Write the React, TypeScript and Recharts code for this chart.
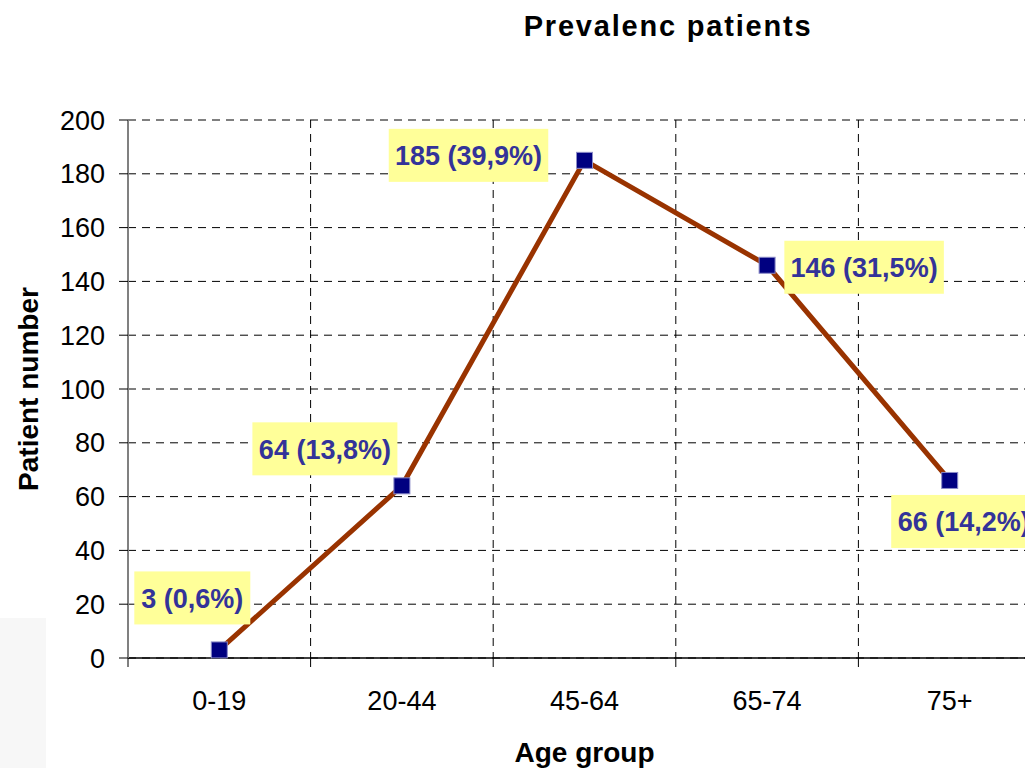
import { LineChart, Line, XAxis, YAxis, CartesianGrid, LabelList, Label } from 'recharts';

// 年齡組別與病人數
const ageGroups = ['0-19', '20-44', '45-64', '65-74', '75+'];
const patients = [3, 64, 185, 146, 66];
const percents = [0.6, 13.8, 39.9, 31.5, 14.2];
const yTicks = [0, 20, 40, 60, 80, 100, 120, 140, 160, 180, 200];

// 標籤框相對於資料點的位移 (dx, dy)
const LABEL_OFFSETS: [number, number][] = [
  [-27, -52],
  [-77, -37],
  [-116, -5],
  [97, 2],
  [14, 41],
];

const FONT = 'Arial, "Liberation Sans", sans-serif';
const TICK_GAP = 33;

const chartData = ageGroups.map((g, i) => ({
  group: g,
  patients: patients[i],
  label: `${patients[i]} (${percents[i].toFixed(1).replace('.', ',')}%)`,
}));

function SquareDot(props: any) {
  const { cx, cy, index } = props;
  if (cx == null || cy == null) return null;
  return (
    <rect
      key={`dot-${index}`}
      x={cx - 8}
      y={cy - 8}
      width={16}
      height={16}
      fill="#000080"
      stroke="#8c8cc8"
      strokeWidth={1}
    />
  );
}

// 類別刻度：文字置中，刻度線畫在類別邊界
function CategoryTick(props: any) {
  const { x, y, width, payload, index } = props;
  const band = width / ageGroups.length;
  const axisY = y - TICK_GAP;
  const left = x - band / 2;
  return (
    <g>
      <line x1={left} x2={left} y1={axisY} y2={axisY + 9} stroke="#000" />
      {index === ageGroups.length - 1 && (
        <line x1={x + band / 2} x2={x + band / 2} y1={axisY} y2={axisY + 9} stroke="#000" />
      )}
      <text x={x} y={y + 19} textAnchor="middle" fontSize={27} fontFamily={FONT} fill="#000">
        {payload.value}
      </text>
    </g>
  );
}

function BoxLabel(props: any) {
  const { x, y, index, value } = props;
  if (x == null || y == null) return null;
  const text = String(value);
  const [dx, dy] = LABEL_OFFSETS[index] ?? [0, -40];
  const w = text.length * 14.5;
  const h = 53;
  const cx = x + dx;
  const cy = y + dy;
  return (
    <g>
      <rect x={cx - w / 2} y={cy - h / 2} width={w} height={h} fill="#FFFF99" />
      <text
        x={cx}
        y={cy + 10}
        textAnchor="middle"
        fontFamily={FONT}
        fontSize={27}
        fontWeight="bold"
        fill="#333399"
      >
        {text}
      </text>
    </g>
  );
}

export default function App() {
  return (
    <div
      style={{
        position: 'absolute',
        left: 0,
        top: 0,
        width: 1025,
        height: 768,
        overflow: 'hidden',
        background: '#fff',
        fontFamily: FONT,
      }}
    >
      <div style={{ position: 'absolute', left: 0, top: 618, width: 46, height: 150, background: '#f7f7f7' }} />
      <div
        style={{
          position: 'absolute',
          left: 668,
          top: 12,
          transform: 'translateX(-50%)',
          fontSize: 29,
          lineHeight: 1,
          fontWeight: 'bold',
          letterSpacing: 1.8,
          whiteSpace: 'nowrap',
          color: '#000',
        }}
      >
        Prevalenc patients
      </div>
      <div style={{ position: 'absolute', left: 0, top: 0 }}>
        <LineChart
          width={1060}
          height={768}
          data={chartData}
          margin={{ top: 120, right: 19, bottom: 0, left: 0 }}
        >
          <CartesianGrid
            stroke="#000"
            strokeDasharray="8 6"
            verticalCoordinatesGenerator={({ offset }: any) =>
              ageGroups.slice(1).map((_, i) => offset.left + (offset.width * (i + 1)) / ageGroups.length)
            }
          />
          <XAxis
            dataKey="group"
            type="category"
            scale="band"
            height={110}
            axisLine={{ stroke: '#000', strokeWidth: 1.5 }}
            tickLine={false}
            tickSize={0}
            tickMargin={TICK_GAP}
            tick={<CategoryTick />}
          >
            <Label
              value="Age group"
              position="insideBottom"
              offset={6}
              style={{ fontSize: 28, fontWeight: 'bold', fill: '#000', fontFamily: FONT }}
            />
          </XAxis>
          <YAxis
            width={128}
            domain={[0, 200]}
            ticks={yTicks}
            interval={0}
            axisLine={{ stroke: '#808080', strokeWidth: 2 }}
            tickLine={{ stroke: '#000' }}
            tickSize={9}
            tickMargin={14}
            tick={{ fontSize: 27, fill: '#000', fontFamily: FONT }}
          >
            <Label
              value="Patient number"
              position="insideLeft"
              angle={-90}
              offset={28}
              style={{ fontSize: 28, fontWeight: 'bold', fill: '#000', fontFamily: FONT, textAnchor: 'middle' }}
            />
          </YAxis>
          <Line
            type="linear"
            dataKey="patients"
            stroke="#993300"
            strokeWidth={5}
            dot={<SquareDot />}
            activeDot={false}
            isAnimationActive={false}
          >
            <LabelList dataKey="label" content={<BoxLabel />} />
          </Line>
        </LineChart>
      </div>
    </div>
  );
}
